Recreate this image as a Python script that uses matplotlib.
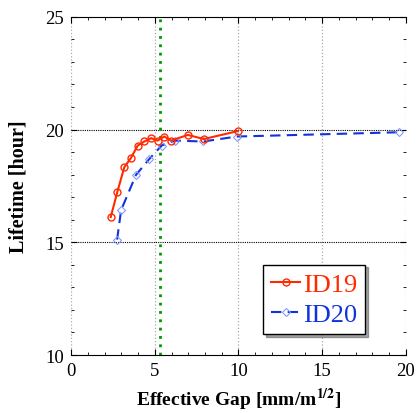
import matplotlib.pyplot as plt
import numpy as np
from matplotlib.ticker import MultipleLocator

plt.rcParams['font.family'] = ['Liberation Serif', 'DejaVu Serif']
plt.rcParams['mathtext.fontset'] = 'stix'

id19_gap = [2.37, 2.77, 3.18, 3.58, 3.98, 4.38, 4.78, 5.17, 5.57, 5.97, 6.97, 7.94, 9.95]
id19_life = [16.12, 17.25, 18.33, 18.74, 19.29, 19.47, 19.62, 19.51, 19.69, 19.51, 19.76, 19.58, 19.93]

id20_gap = [2.75, 2.99, 3.88, 4.68, 5.41, 6.21, 7.90, 9.89, 19.6]
id20_life = [15.12, 16.43, 17.99, 18.70, 19.29, 19.51, 19.47, 19.69, 19.88]

gap_limit = 5.31

fig = plt.figure(figsize=(4.18, 4.14), dpi=100)
ax = fig.add_axes([0.170, 0.140, 0.801, 0.817])

for x in [0, 5, 10, 15, 20]:
    ax.axvline(x, color='#aaaaaa', ls=':', lw=0.9, zorder=0)
for y in [15, 20]:
    ax.axhline(y, color='black', ls=(0, (1, 1)), lw=0.8, zorder=0)

ax.axvline(gap_limit, color='#009900', ls=(0, (1, 2)), lw=2, zorder=1)

ax.plot(id19_gap, id19_life, color='#ff2a00', lw=1.5, marker='o', ms=5,
        mfc='none', mec='#ff2a00', mew=1, label='ID19', zorder=3)
ax.plot(id20_gap, id20_life, color='#1133dd', lw=1.5, ls=(0, (5, 3)),
        marker='D', ms=4, mfc='none', mec='#8899ff', mew=0.8,
        label='ID20', zorder=2)

ax.set_xlim(0, 20)
ax.set_ylim(10, 25)
ax.spines['left'].set_visible(False)
ax.spines['right'].set_visible(False)
ax.xaxis.set_major_locator(MultipleLocator(5))
ax.xaxis.set_minor_locator(MultipleLocator(1))
ax.yaxis.set_major_locator(MultipleLocator(5))
ax.yaxis.set_minor_locator(MultipleLocator(1))
ax.tick_params(which='both', direction='in', top=True, right=True, labelsize=13.5, pad=5)
ax.tick_params(which='major', length=4)
ax.tick_params(which='minor', length=2)

ax.set_xlabel(r'Effective Gap [mm/m$^{\mathbf{1/2}}$]', fontsize=14, fontweight='bold',
              labelpad=5)
ax.set_ylabel('Lifetime [hour]', fontsize=14.5, fontweight='bold', labelpad=12)

leg = ax.legend(loc='lower right', bbox_to_anchor=(0.878, 0.062), fontsize=19,
                handlelength=1.1, handletextpad=0.1, borderpad=0.3,
                labelspacing=0.25, borderaxespad=0, fancybox=False,
                shadow=True, framealpha=1)
leg.get_frame().set_edgecolor('black')
leg.get_frame().set_linewidth(1.0)
for text, c in zip(leg.get_texts(), ['#ff2a00', '#1133dd']):
    text.set_color(c)

fig.savefig('out.png', dpi=100)
